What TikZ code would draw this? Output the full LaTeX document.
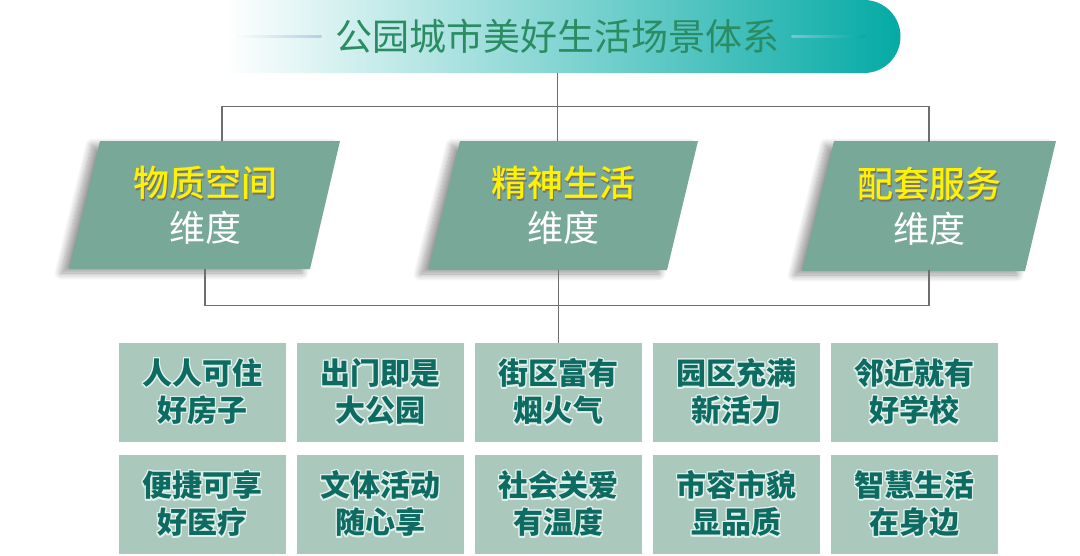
\documentclass[tikz,border=0pt]{standalone}
\usepackage{fontspec}
\setmainfont{Noto Sans CJK SC}
\newfontfamily\headfont{Noto Sans CJK SC Medium}
\usepackage{contour}
\usetikzlibrary{shadows.blur}
\definecolor{dimfill}{HTML}{78A897}
\definecolor{cellfill}{HTML}{ABC8BD}
\definecolor{celltext}{HTML}{0E6B62}
\definecolor{cellglow}{HTML}{E0F0EA}
\definecolor{pillteal}{HTML}{05AAA5}
\definecolor{pillmid}{HTML}{C3EAE6}
\definecolor{titletext}{HTML}{2A8C62}
\definecolor{linkgray}{HTML}{6E6E6E}
\definecolor{ruleblue}{HTML}{B3CFE2}
\contourlength{1.4pt}
\newcommand{\dimhead}[1]{\makebox[0pt][l]{\hspace{1.8pt}\raisebox{-1.8pt}{\color{black!55}#1}}#1}

\begin{document}
\begin{tikzpicture}[x=1pt,y=-1pt,
  link/.style={draw=linkgray, line width=1.4pt},
  dimshape/.style={fill=dimfill,
    blur shadow={shadow xshift=-8pt, shadow yshift=-4pt, shadow opacity=40, shadow blur radius=7pt, shadow blur steps=12}},
  dimtext/.style={minimum height=128pt, inner sep=0pt, align=center,
    font=\fontsize{36pt}{45pt}\selectfont},
  cellbox/.style={rectangle, fill=cellfill, minimum width=167pt, minimum height=99pt,
    inner sep=0pt, align=center, text=celltext, font=\fontsize{30pt}{37pt}\selectfont\bfseries}]
\useasboundingbox (0,0) rectangle (1080,555);

% title bar
\shade[left color=white, middle color=pillmid, right color=pillteal]
  (225,0) -- (864,0) arc[start angle=-90, end angle=90, radius=36.5] -- (225,73) -- cycle;
\node[inner sep=0pt, minimum height=73pt, text=titletext, font=\fontsize{37pt}{37pt}\selectfont]
  (title) at (557.5,36.5) {公园城市美好生活场景体系};
\shade[left color=white, right color=ruleblue] ([xshift=-14pt,yshift=0.7pt]title.west) rectangle ++(-90,1.4);
\shade[left color=ruleblue!70!pillteal, right color=pillteal] ([xshift=12pt,yshift=0.7pt]title.east) rectangle ++(74,1.4);

% three dimensions
\fill[dimshape] (100,141) -- (340,141) -- (310,269) -- (69,269) -- cycle;
\fill[dimshape] (460,141) -- (698,141) -- (667,270) -- (428,270) -- cycle;
\fill[dimshape] (834,141) -- (1056,141) -- (1025,271) -- (802,271) -- cycle;
\node[dimtext] (dimA) at (205,205) {\textcolor{yellow}{\headfont\dimhead{物质空间}}\\\textcolor{white}{维度}};
\node[dimtext] (dimB) at (563,205.5) {\textcolor{yellow}{\headfont\dimhead{精神生活}}\\\textcolor{white}{维度}};
\node[dimtext] (dimC) at (929,206) {\textcolor{yellow}{\headfont\dimhead{配套服务}}\\\textcolor{white}{维度}};

% ten scenes
\foreach \ta/\tb [count=\i from 0] in {人人可住/好房子, 出门即是/大公园, 街区富有/烟火气, 园区充满/新活力, 邻近就有/好学校,
  便捷可享/好医疗, 文体活动/随心享, 社会关爱/有温度, 市容市貌/显品质, 智慧生活/在身边} {
  \pgfmathtruncatemacro{\col}{mod(\i,5)}
  \pgfmathtruncatemacro{\row}{int(\i/5)}
  \node[cellbox] (cell\row\col) at (202.5+178*\col, 392.5+112*\row) {\contour{cellglow}{\ta}\\\contour{cellglow}{\tb}};
}

% connectors
\draw[link] (title.south) -- ++(0,33) coordinate (tophub) -| ([xshift=17pt]dimA.north);
\draw[link] (tophub) -| (dimC.north);
\draw[link] (tophub) -- (tophub |- dimB.north);
\draw[link] (dimA.south) -- ++(0,36) -| (dimC.south);
\draw[link] (cell02.north |- dimB.south) -- (cell02.north);
\end{tikzpicture}
\end{document}
